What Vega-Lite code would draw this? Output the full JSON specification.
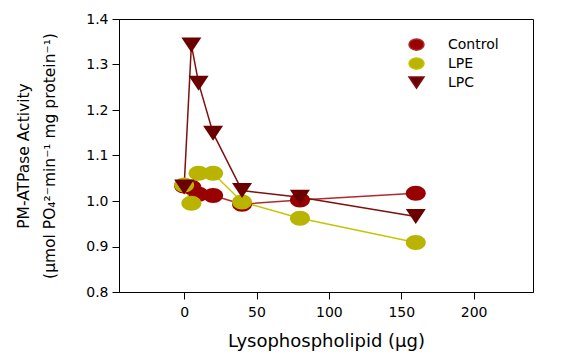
{
  "$schema": "https://vega.github.io/schema/vega-lite/v6.json",
  "width": 414,
  "height": 273,
  "autosize": "none",
  "padding": {"left": 119, "top": 19, "right": 35, "bottom": 69},
  "background": "white",
  "config": {
    "view": {"stroke": "black", "strokeWidth": 1},
    "font": "DejaVu Sans",
    "axis": {
      "domainColor": "black",
      "tickColor": "black",
      "labelColor": "black",
      "titleColor": "black",
      "grid": false,
      "labelFont": "DejaVu Sans",
      "titleFont": "DejaVu Sans",
      "labelFontSize": 14,
      "titleFontWeight": "normal",
      "tickSize": 7,
      "tickWidth": 1,
      "domainWidth": 1
    },
    "legend": {
      "orient": "none",
      "legendX": 289,
      "legendY": 17,
      "title": null,
      "padding": 0,
      "symbolSize": 225,
      "symbolStrokeWidth": 1.5,
      "rowPadding": 0,
      "labelOffset": 23,
      "labelFont": "DejaVu Sans",
      "labelFontSize": 14,
      "labelColor": "black"
    }
  },
  "data": {
    "values": [
      {"series": "Control", "dose": 0, "activity": 1.033},
      {"series": "Control", "dose": 5, "activity": 1.03},
      {"series": "Control", "dose": 10, "activity": 1.015},
      {"series": "Control", "dose": 20, "activity": 1.012},
      {"series": "Control", "dose": 40, "activity": 0.993},
      {"series": "Control", "dose": 80, "activity": 1.002},
      {"series": "Control", "dose": 160, "activity": 1.017},
      {"series": "LPE", "dose": 0, "activity": 1.035},
      {"series": "LPE", "dose": 5, "activity": 0.995},
      {"series": "LPE", "dose": 10, "activity": 1.061},
      {"series": "LPE", "dose": 20, "activity": 1.061},
      {"series": "LPE", "dose": 40, "activity": 0.998},
      {"series": "LPE", "dose": 80, "activity": 0.962},
      {"series": "LPE", "dose": 160, "activity": 0.909},
      {"series": "LPC", "dose": 0, "activity": 1.031},
      {"series": "LPC", "dose": 5, "activity": 1.343},
      {"series": "LPC", "dose": 10, "activity": 1.259},
      {"series": "LPC", "dose": 20, "activity": 1.149},
      {"series": "LPC", "dose": 40, "activity": 1.023},
      {"series": "LPC", "dose": 80, "activity": 1.008},
      {"series": "LPC", "dose": 160, "activity": 0.966}
    ]
  },
  "encoding": {
    "x": {
      "field": "dose",
      "type": "quantitative",
      "scale": {"domain": [-45, 241], "nice": false, "zero": false},
      "axis": {
        "values": [0, 50, 100, 150, 200],
        "labelPadding": 6,
        "title": "Lysophospholipid (μg)",
        "titleFontSize": 18,
        "titlePadding": 13
      }
    },
    "y": {
      "field": "activity",
      "type": "quantitative",
      "scale": {"domain": [0.8, 1.4], "nice": false, "zero": false},
      "axis": {
        "values": [0.8, 0.9, 1.0, 1.1, 1.2, 1.3, 1.4],
        "format": ".1f",
        "labelPadding": 4,
        "title": ["PM-ATPase Activity", "(μmol PO₄²⁻min⁻¹ mg protein⁻¹)"],
        "titleFontSize": 15.5,
        "titleLineHeight": 26,
        "titlePadding": 28
      }
    }
  },
  "layer": [
    {
      "mark": {"type": "line", "strokeWidth": 1.5},
      "encoding": {
        "stroke": {
          "field": "series",
          "type": "nominal",
          "scale": {"domain": ["Control", "LPE", "LPC"], "range": ["#b02a30", "#c8c400", "#7e1010"]}
        }
      }
    },
    {
      "mark": {"type": "point", "filled": true, "opacity": 1, "size": 400, "strokeWidth": 0},
      "encoding": {
        "fill": {
          "field": "series",
          "type": "nominal",
          "scale": {"domain": ["Control", "LPE", "LPC"], "range": ["#990000", "#b8b400", "#6b0000"]}
        },
        "shape": {
          "field": "series",
          "type": "nominal",
          "scale": {
            "domain": ["Control", "LPE", "LPC"],
            "range": [
              "M-1,0A1,0.75 0 1,1 1,0A1,0.75 0 1,1 -1,0Z",
              "M-1,0A1,0.75 0 1,1 1,0A1,0.75 0 1,1 -1,0Z",
              "M-1,-0.75L1,-0.75L0,0.75Z"
            ]
          }
        }
      }
    }
  ]
}
